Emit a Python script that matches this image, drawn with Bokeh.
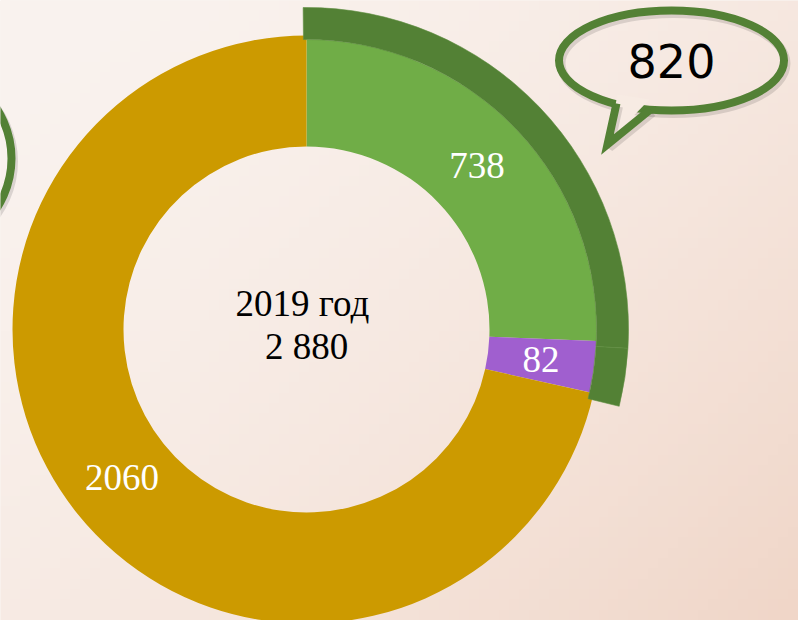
import numpy as np
from bokeh.plotting import figure
from bokeh.models import Range1d, ColumnDataSource
from bokeh.embed import file_html
from bokeh.resources import INLINE
from bokeh.core.properties import value

# ---- data ----
categories = ["738", "82", "2060"]
values = [738, 82, 2060]
colors = ["#70ad47", "#a05fcf", "#cc9a00"]
outer_group = [738, 82]          # highlighted group (sum = 820)
year_label = "2019 год"
bubble_label = "820"

total = sum(values)
total_label = f"{total:,}".replace(",", " ")

# ---- figure: 1 data unit = 1 px, y measured upward ----
W, H = 798, 620
def sy(y):
    return 620 - y

p = figure(width=W, height=H, x_range=Range1d(0, 798), y_range=Range1d(0, 620),
           output_backend="svg", toolbar_location=None, min_border=0)
p.axis.visible = False
p.grid.visible = False
p.outline_line_color = None
p.background_fill_color = "#f6e9e1"
p.border_fill_color = "#f6e9e1"

# background gradient (decoration)
ny, nx = 60, 80
yy, xx = np.mgrid[0:ny, 0:nx]
t = 0.55 * (xx / (nx - 1)) + 0.45 * (1 - yy / (ny - 1))
t = np.clip(t, 0, 1) ** 1.6
c0 = np.array([250, 243, 239])
c1 = np.array([240, 214, 200])
img = np.empty((ny, nx), dtype=np.uint32)
view = img.view(dtype=np.uint8).reshape((ny, nx, 4))
for k in range(3):
    view[..., k] = (c0[k] + (c1[k] - c0[k]) * t).astype(np.uint8)
view[..., 3] = 255
p.image_rgba(image=[img], x=0, y=0, dw=798, dh=620)

# ---- donut ----
cx, cy = 306, sy(329)
r_in = 183
cum = np.cumsum([0] + values)
start = np.pi / 2 - 2 * np.pi * cum[:-1] / total
end = np.pi / 2 - 2 * np.pi * cum[1:] / total
src = ColumnDataSource(dict(cat=categories, val=values, start=start, end=end,
                            color=colors, r_out=[290, 290, 294]))
p.annular_wedge(x=cx, y=cy, inner_radius=r_in, outer_radius="r_out",
                start_angle="start", end_angle="end", direction="clock",
                fill_color="color", line_color=None, source=src)

# outer highlight ring over the 738 + 82 group (slightly rotated/stretched,
# as in the original where it is a separate overlaid chart)
ring_rot = np.deg2rad(0.6)
ring_scale = 1.0185
g_cum = np.cumsum([0] + outer_group)
g_start = np.pi / 2 + ring_rot - ring_scale * 2 * np.pi * g_cum[:-1] / total
g_end = np.pi / 2 + ring_rot - ring_scale * 2 * np.pi * g_cum[1:] / total
p.annular_wedge(x=cx, y=cy, inner_radius=290, outer_radius=322,
                start_angle=g_start, end_angle=g_end, direction="clock",
                fill_color="#538135", line_color="#5f8f42", line_width=0.6)

# segment labels
mid = (start + end) / 2
r_lab = 236.5
lx = cx + r_lab * np.cos(mid)
ly = cy + r_lab * np.sin(mid)
p.text(x=lx, y=ly, text=[str(v) for v in values], text_color="white",
       text_font=value("Liberation Serif"), text_font_size="37px",
       text_align="center", text_baseline="middle")

# centre labels
p.text(x=[cx - 4, cx], y=[sy(303), sy(346)], text=[year_label, total_label],
       text_color="black", text_font=value("Liberation Serif"),
       text_font_size="37px", text_align="center", text_baseline="middle")

# ---- speech bubbles (decoration) ----
bx, by, bw, bh = 671, sy(60), 225, 100
tail_x = [616, 607, 650]
tail_y = [sy(103), sy(144), sy(109)]
fill_tail_x = [617, 608, 649]
fill_tail_y = [sy(94), sy(141), sy(99)]

# soft shadow
p.ellipse(x=bx + 2, y=by - 3, width=bw, height=bh, fill_color=None,
          line_color="black", line_alpha=0.12, line_width=9)
p.ellipse(x=-100 + 2, y=sy(158) - 3, width=222, height=200, fill_color=None,
          line_color="black", line_alpha=0.12, line_width=9)

p.ellipse(x=bx, y=by, width=bw, height=bh, fill_color=None,
          line_color="#538135", line_width=8)
p.patch(x=fill_tail_x, y=fill_tail_y, fill_color="#f7ebe3", line_color=None)
p.line(x=[x + 2 for x in tail_x], y=[y - 3 for y in tail_y], line_color="black",
       line_alpha=0.12, line_width=9)
p.line(x=tail_x, y=tail_y, line_color="#538135", line_width=8, line_join="miter")
p.text(x=[bx], y=[sy(60)], text=[bubble_label], text_color="black",
       text_font=value("DejaVu Sans"), text_font_size="46px",
       text_align="center", text_baseline="middle")

# partially visible left bubble
p.ellipse(x=-100, y=sy(158), width=222, height=200, fill_color=None,
          line_color="#538135", line_width=8)

open("out.html", "w").write(file_html(p, INLINE))
